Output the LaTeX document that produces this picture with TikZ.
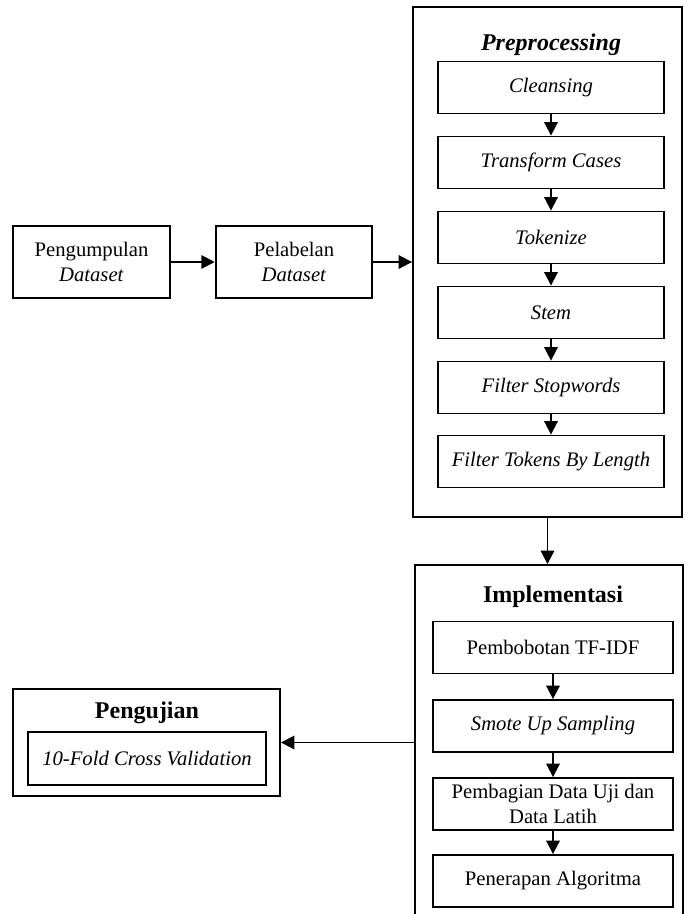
\documentclass[tikz,border=0pt]{standalone}
\usepackage{fontspec}
\setmainfont{Liberation Serif}
\usetikzlibrary{arrows.meta}

\begin{document}
\begin{tikzpicture}[x=0.75pt,y=-0.75pt]
\tikzset{
  stepbox/.style={draw,line width=1.4pt,inner sep=1pt,align=center,font=\fontsize{15.5}{18.5}\selectfont},
  leftbox/.style={stepbox,minimum width=117.5pt,minimum height=54pt},
  prebox/.style={stepbox,minimum width=169.5pt,minimum height=39pt},
  impbox/.style={stepbox,minimum width=180pt,minimum height=39pt},
  groupbox/.style={draw,line width=1.4pt,inner sep=0pt},
  grouptitle/.style={font=\fontsize{18}{21}\selectfont\bfseries},
  directed/.style={-{Triangle[length=10pt,width=10pt]},line width=1.4pt}
}
\useasboundingbox (0,0) rectangle (685,914);
\node[leftbox] (n_kumpul) at (91.5,262) {Pengumpulan\\\textit{Dataset}};
\node[leftbox] (n_label) at (294,262) {Pelabelan\\\textit{Dataset}};
\node[groupbox,minimum width=201.75pt,minimum height=382.5pt] (n_pre) at (547.5,262) {};
\node[grouptitle] (t_pre) at (551,45) {\textit{Preprocessing}};
\node[prebox] (n_p0) at (551,87.5) {\textit{Cleansing}};
\node[prebox] (n_p1) at (551,162.5) {\textit{Transform Cases}};
\node[prebox] (n_p2) at (551,237.5) {\textit{Tokenize}};
\node[prebox] (n_p3) at (551,312.5) {\textit{Stem}};
\node[prebox] (n_p4) at (551,387.5) {\textit{Filter Stopwords}};
\node[prebox] (n_p5) at (551,461.5) {\textit{Filter Tokens By Length}};
\node[groupbox,minimum width=201pt,minimum height=270pt] (n_imp) at (549,745) {};
\node[grouptitle] (t_imp) at (553,597) {Implementasi};
\node[impbox] (n_i0) at (553,647.5) {Pembobotan TF-IDF};
\node[impbox] (n_i1) at (553,726) {\textit{Smote Up Sampling}};
\node[impbox] (n_i2) at (553,804) {Pembagian Data Uji dan\\Data Latih};
\node[impbox] (n_i3) at (553,881) {Penerapan Algoritma};
\node[groupbox,minimum width=200.25pt,minimum height=80.25pt] (n_uji) at (146.5,742.5) {};
\node[grouptitle] (t_uji) at (147,713) {Pengujian};
\node[stepbox,minimum width=178.5pt,minimum height=39.75pt] (n_u0) at (147,758.5) {\textit{10-Fold Cross Validation}};
\draw[directed] (n_kumpul) -- (n_label);
\draw[directed] (n_label.east) -- (n_label.east -| n_pre.west);
\draw[directed] (n_p0) -- (n_p1);
\draw[directed] (n_p1) -- (n_p2);
\draw[directed] (n_p2) -- (n_p3);
\draw[directed] (n_p3) -- (n_p4);
\draw[directed] (n_p4) -- (n_p5);
\draw[directed] (n_pre.south) -- (n_pre.south |- n_imp.north);
\draw[directed] (n_i0) -- (n_i1);
\draw[directed] (n_i1) -- (n_i2);
\draw[directed] (n_i2) -- (n_i3);
\draw[directed] (n_uji.east -| n_imp.west) -- (n_uji.east);
\end{tikzpicture}
\end{document}
